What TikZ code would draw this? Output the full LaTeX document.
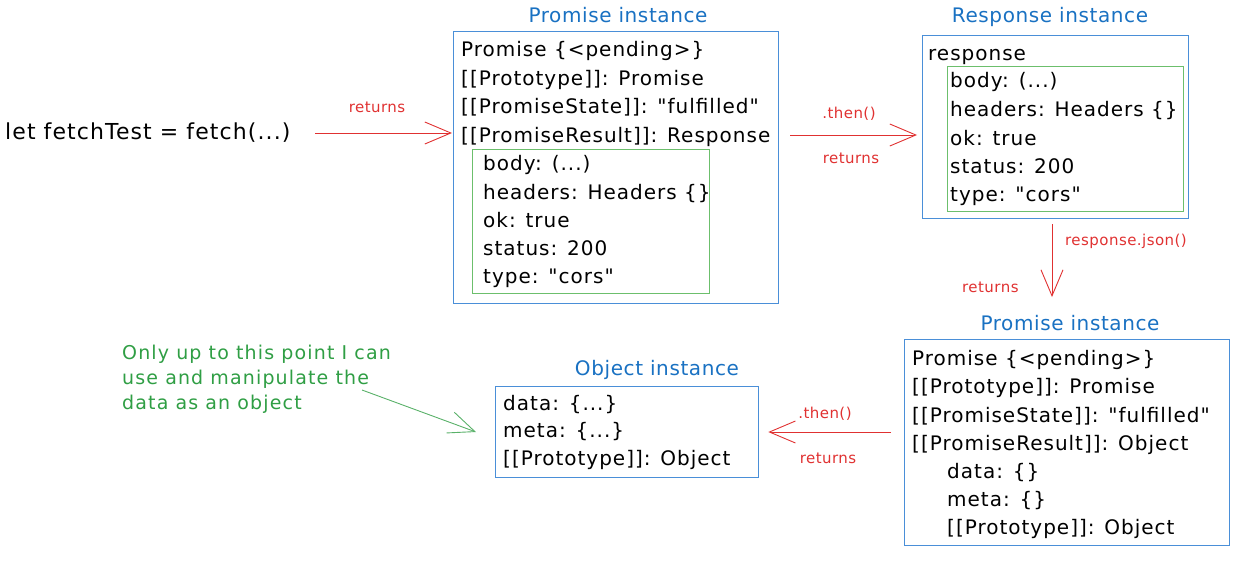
\documentclass[tikz,border=0pt]{standalone}
\usepackage{fontspec}
\setmainfont{DejaVu Sans}
\newfontfamily\bodyfam[LetterSpace=5]{DejaVu Sans}
\newfontfamily\ttlfam[LetterSpace=3]{DejaVu Sans}
\newfontfamily\notefam[LetterSpace=6]{DejaVu Sans}
\usetikzlibrary{arrows.meta}
\definecolor{tblue}{HTML}{1971C2}
\definecolor{bblue}{HTML}{4A8FD8}
\definecolor{ared}{HTML}{E03131}
\definecolor{ggreen}{HTML}{6CBF6C}
\definecolor{tgreen}{HTML}{2F9E44}
\tikzset{
  txt/.style={font=\bodyfam\fontsize{20}{24}\selectfont, inner sep=0pt, anchor=base west, text=black},
  ttl/.style={font=\ttlfam\fontsize{20}{24}\selectfont, inner sep=0pt, anchor=base, text=tblue},
  lbl/.style={font=\ttlfam\fontsize{15}{18}\selectfont, inner sep=0pt, anchor=base, text=ared},
  note/.style={font=\notefam\fontsize{19}{25}\selectfont, inner sep=0pt, anchor=base west, text=tgreen, align=left},
  bbox/.style={draw=bblue, line width=1.3pt, inner sep=0pt, anchor=north west},
  gbox/.style={draw=ggreen, line width=1pt, inner sep=0pt, anchor=north west},
  arr/.style={draw=ared, line width=0.9pt, -{Straight Barb[length=26pt,width=22pt,line width=0.9pt]}},
  garr/.style={draw=tgreen!80, line width=0.9pt, -{Straight Barb[length=26pt,width=22pt,line width=0.9pt]}},
}
\begin{document}
\begin{tikzpicture}[x=1pt,y=-1pt]
\useasboundingbox (0,0) rectangle (1243,565);
% left expression
\node[txt, font=\bodyfam\fontsize{22}{26}\selectfont] (let) at (5,139) {let fetchTest = fetch(...)};

% Promise instance 1
\node[ttl] (t1) at (618,22) {Promise instance};
\node[bbox, minimum width=325pt, minimum height=272pt] (p1) at (453,31) {};
\node[txt] (p1a) at (461,56) {Promise \{<pending>\}};
\node[txt] (p1b) at (461,85) {[[Prototype]]: Promise};
\node[txt] (p1c) at (461,113) {[[PromiseState]]: "fulfilled"};
\node[txt] (p1d) at (461,142) {[[PromiseResult]]: Response};
\node[gbox, minimum width=237pt, minimum height=144pt] (g1) at (472,149) {};
\node[txt] (g1a) at (483,170) {body: (...)};
\node[txt] (g1b) at (483,199) {headers: Headers \{\}};
\node[txt] (g1c) at (483,227) {ok: true};
\node[txt] (g1d) at (483,255) {status: 200};
\node[txt] (g1e) at (483,283) {type: "cors"};

% Response instance
\node[ttl] (t2) at (1050,22) {Response instance};
\node[bbox, minimum width=266pt, minimum height=183pt] (resp) at (922,35) {};
\node[txt] (ra) at (928,60) {response};
\node[gbox, minimum width=236pt, minimum height=145pt] (g2) at (947,66) {};
\node[txt] (g2a) at (950,87) {body: (...)};
\node[txt] (g2b) at (950,116) {headers: Headers \{\}};
\node[txt] (g2c) at (950,145) {ok: true};
\node[txt] (g2d) at (950,173) {status: 200};
\node[txt] (g2e) at (950,201) {type: "cors"};

% Promise instance 2
\node[ttl] (t3) at (1070,330) {Promise instance};
\node[bbox, minimum width=325pt, minimum height=206pt] (p2) at (904,339) {};
\node[txt] (p2a) at (912,365) {Promise \{<pending>\}};
\node[txt] (p2b) at (912,393) {[[Prototype]]: Promise};
\node[txt] (p2c) at (912,422) {[[PromiseState]]: "fulfilled"};
\node[txt] (p2d) at (912,450) {[[PromiseResult]]: Object};
\node[txt] (p2e) at (947,478) {data: \{\}};
\node[txt] (p2f) at (947,506) {meta: \{\}};
\node[txt] (p2g) at (947,534) {[[Prototype]]: Object};

% Object instance
\node[ttl] (t4) at (657,375) {Object instance};
\node[bbox, minimum width=263pt, minimum height=91pt] (obj) at (495,386) {};
\node[txt] (oa) at (503,410) {data: \{...\}};
\node[txt] (ob) at (503,437) {meta: \{...\}};
\node[txt] (oc) at (503,465) {[[Prototype]]: Object};

% note (base anchor = last line)
\node[note] (nt) at (122,409) {Only up to this point I can\\use and manipulate the\\data as an object};

% arrows
\coordinate (a1s) at (315,133);
\draw[arr] (a1s) -- ([xshift=-1pt]a1s -| p1.west);
\node[lbl] (l1) at (377,112) {returns};

\coordinate (a2s) at (790,135);
\draw[arr] (a2s) -- ([xshift=-5pt]a2s -| resp.west);
\node[lbl] (l2) at (849,118) {.then()};
\node[lbl] (l3) at (851,163) {returns};

\coordinate (a3s) at (1052,224);
\coordinate (a3e) at (1052,297);
\draw[arr] (a3s) -- (a3e);
\node[lbl, anchor=base west] (l4) at (1065,245) {response.json()};
\node[lbl, anchor=base west] (l5) at (962,292) {returns};

\coordinate (a4s) at (891,432);
\draw[arr] (a4s) -- ([xshift=9pt]a4s -| obj.east);
\node[lbl] (l6) at (825,418) {.then()};
\node[lbl] (l7) at (828,463) {returns};

\coordinate (a5s) at (362,390);
\coordinate (a5e) at (476,432);
\draw[garr] (a5s) -- (a5e);
\end{tikzpicture}
\end{document}
